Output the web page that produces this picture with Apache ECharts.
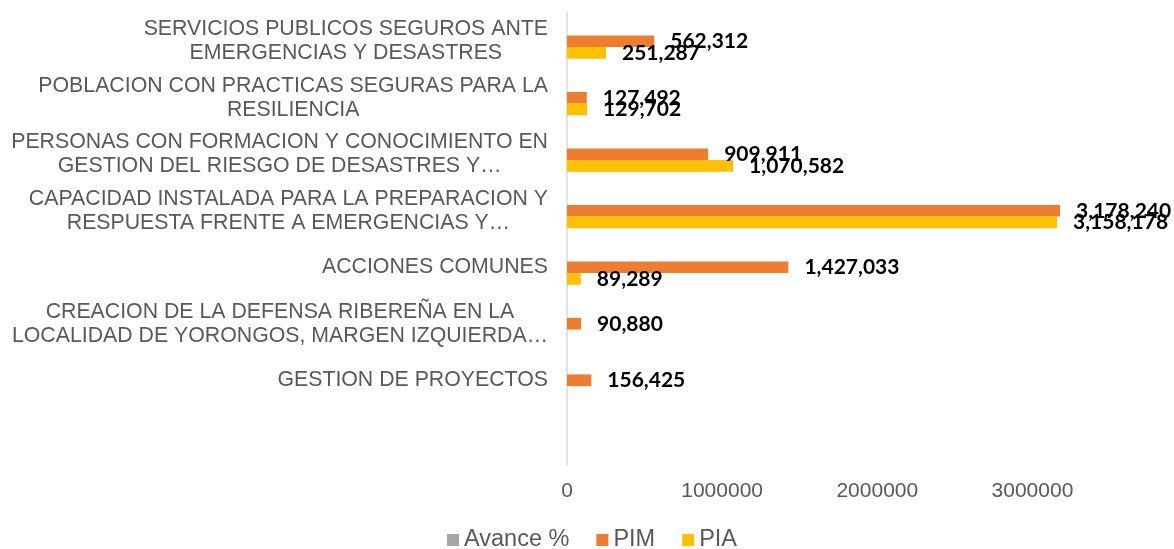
<!DOCTYPE html>
<html>
<head>
<meta charset="utf-8">
<script src="https://cdn.jsdelivr.net/npm/echarts@6/dist/echarts.min.js"></script>
<style>
  html, body { margin: 0; padding: 0; background: #ffffff; }
  #chart { width: 1174px; height: 549px; }
</style>
</head>
<body>
<div id="chart"></div>
<script>
// Budget lines, listed top to bottom (the last one is an empty row)
const categories = [
  'SERVICIOS PUBLICOS SEGUROS ANTE\nEMERGENCIAS Y DESASTRES',
  'POBLACION CON PRACTICAS SEGURAS PARA LA\nRESILIENCIA',
  'PERSONAS CON FORMACION Y CONOCIMIENTO EN\nGESTION DEL RIESGO DE DESASTRES Y…',
  'CAPACIDAD INSTALADA PARA LA PREPARACION Y\nRESPUESTA FRENTE A EMERGENCIAS Y…',
  'ACCIONES COMUNES',
  'CREACION DE LA DEFENSA RIBEREÑA EN LA\nLOCALIDAD DE YORONGOS, MARGEN IZQUIERDA…',
  'GESTION DE PROYECTOS',
  ''
];

// Series values (null = no bar)
const avance = [null, null, null, null, null, null, null, null];
const pim = [562312, 127492, 909911, 3178240, 1427033, 90880, 156425, null];
const pia = [251287, 129702, 1070582, 3158178, 89289, null, null, null];

const seriesNames = ['Avance %', 'PIM', 'PIA'];
const seriesColors = ['#A5A5A5', '#ED7D31', '#FFC000'];

const axisMax = 3500000;
const axisStep = 1000000;

const textColor = '#595959';
const sansFont = '"Liberation Sans", Arial, sans-serif';

const valueLabel = {
  show: true,
  position: 'right',
  distance: 16,
  color: '#000000',
  fontFamily: 'Lato, "Open Sans", sans-serif',
  fontWeight: 'bold',
  fontSize: 21,
  formatter: p => p.value == null ? '' : Number(p.value).toLocaleString('en-US')
};

function barSeries(name, data, color, withLabel) {
  return {
    name: name,
    type: 'bar',
    data: data,
    barWidth: 11.7,
    barGap: '0%',
    itemStyle: { color: color },
    label: withLabel ? valueLabel : { show: false },
    emphasis: { disabled: true }
  };
}

const chart = echarts.init(document.getElementById('chart'), null, { renderer: 'canvas' });

chart.setOption({
  animation: false,
  backgroundColor: '#ffffff',
  grid: { left: 567, right: 64, top: 13, bottom: 84, containLabel: false },
  legend: {
    data: seriesNames,
    top: 528,
    left: 447,
    padding: 0,
    icon: 'rect',
    itemWidth: 12,
    itemHeight: 12,
    itemGap: 27,
    textStyle: { color: textColor, fontFamily: sansFont, fontSize: 23.5, lineHeight: 24 }
  },
  xAxis: {
    type: 'value',
    min: 0,
    max: axisMax,
    interval: axisStep,
    axisLine: { show: false },
    axisTick: { show: false },
    splitLine: { show: false },
    axisLabel: {
      color: textColor,
      fontFamily: sansFont,
      fontSize: 21,
      margin: 16,
      showMaxLabel: false,
      formatter: v => String(v)
    }
  },
  yAxis: {
    type: 'category',
    inverse: true,
    data: categories,
    axisLine: { show: true, lineStyle: { color: '#D9D9D9', width: 1.5 } },
    axisTick: { show: false },
    axisLabel: {
      margin: 19,
      interval: 0,
      align: 'right',
      formatter: v => v.split('\n').map(s => '{c|' + s + '}').join('\n'),
      rich: {
        c: {
          align: 'center',
          color: textColor,
          fontFamily: sansFont,
          fontSize: 21.3,
          lineHeight: 24
        }
      }
    }
  },
  series: [
    barSeries(seriesNames[0], avance, seriesColors[0], false),
    barSeries(seriesNames[1], pim, seriesColors[1], true),
    barSeries(seriesNames[2], pia, seriesColors[2], true)
  ]
});
</script>
</body>
</html>
